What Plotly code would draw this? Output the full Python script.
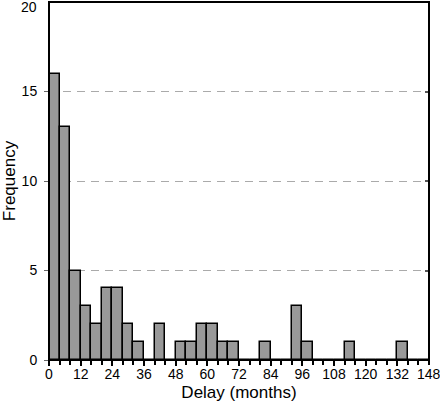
import plotly.graph_objects as go

# Histogram of delays, 4-month bins (left edge of each bin)
bin_start = [0, 4, 8, 12, 16, 20, 24, 28, 32, 36, 40, 44, 48, 52, 56, 60, 64, 68,
             72, 76, 80, 84, 88, 92, 96, 100, 104, 108, 112, 116, 120, 124, 128,
             132, 136, 140]
counts = [16, 13, 5, 3, 2, 4, 4, 2, 1, 0, 2, 0, 1, 1, 2, 2, 1, 1,
          0, 0, 1, 0, 0, 3, 1, 0, 0, 0, 1, 0, 0, 0, 0,
          1, 0, 0]
bin_width = 4

x_tickvals = [0, 12, 24, 36, 48, 60, 72, 84, 96, 108, 120, 132, 144]
x_ticktext = ["0", "12", "24", "36", "48", "60", "72", "84", "96", "108", "120", "132", "148"]
y_tickvals = [0, 5, 10, 15, 20]
y_ticktext = ["0", "5", "10", "15", "20"]

font = dict(family="Liberation Sans, Arial, sans-serif", size=14, color="black")

fig = go.Figure()
fig.add_trace(go.Bar(
    x=bin_start,
    y=counts,
    width=bin_width,
    offset=0,
    marker=dict(color="#999999", line=dict(color="black", width=1.5)),
    hoverinfo="x+y",
))
# short inside ticks on the right-hand frame
fig.add_trace(go.Scatter(x=[0], y=[0], yaxis="y2", mode="markers",
                         marker=dict(opacity=0), hoverinfo="skip", showlegend=False))

# edge labels would spill past the page, so they are placed as annotations
fig.add_annotation(x=x_tickvals[-1], y=0, xref="x", yref="paper", text=x_ticktext[-1],
                   showarrow=False, xanchor="center", yanchor="middle", yshift=-14)
fig.add_annotation(x=0, y=y_tickvals[-1], xref="paper", yref="y", text=y_ticktext[-1],
                   showarrow=False, xanchor="right", yanchor="middle", xshift=-10, yshift=-5)

# plot frame
fig.add_shape(type="rect", xref="paper", yref="paper", x0=0, y0=0, x1=1, y1=1,
              line=dict(color="black", width=2), layer="above")

fig.update_layout(
    width=440,
    height=402,
    margin=dict(l=49, r=11, t=2, b=42, autoexpand=False),
    paper_bgcolor="white",
    plot_bgcolor="white",
    font=font,
    showlegend=False,
    bargap=0,
    xaxis=dict(
        range=[0, 144],
        tickmode="array",
        tickvals=x_tickvals[:-1],
        ticktext=x_ticktext[:-1],
        ticks="outside",
        ticklen=5,
        tickwidth=1.5,
        tickcolor="black",
        ticklabelstandoff=-4,
        minor=dict(dtick=4, tick0=0, ticks="outside", ticklen=4,
                   tickwidth=1.5, tickcolor="black", showgrid=False),
        showgrid=False,
        zeroline=False,
        showline=False,
        title=dict(text="Delay (months)", standoff=6),
        automargin=False,
        fixedrange=True,
    ),
    yaxis=dict(
        range=[0, 20],
        tickmode="array",
        tickvals=y_tickvals[:-1],
        ticktext=y_ticktext[:-1],
        ticks="outside",
        ticklen=4,
        tickwidth=1,
        tickcolor="#666666",
        ticklabelstandoff=4,
        showgrid=True,
        gridcolor="#aaaaaa",
        gridwidth=1,
        griddash="8px,6px",
        zeroline=False,
        showline=False,
        title=dict(text="Frequency", standoff=8),
        automargin=False,
        fixedrange=True,
    ),
    yaxis2=dict(
        range=[0, 20],
        overlaying="y",
        side="right",
        tickvals=y_tickvals,
        ticks="inside",
        ticklen=4,
        tickwidth=1.5,
        tickcolor="#555555",
        showticklabels=False,
        showgrid=False,
        zeroline=False,
        showline=False,
        automargin=False,
        fixedrange=True,
    ),
)

fig.write_html("out.html", config={"displayModeBar": False},
               post_script="document.body.style.margin = '0';")
